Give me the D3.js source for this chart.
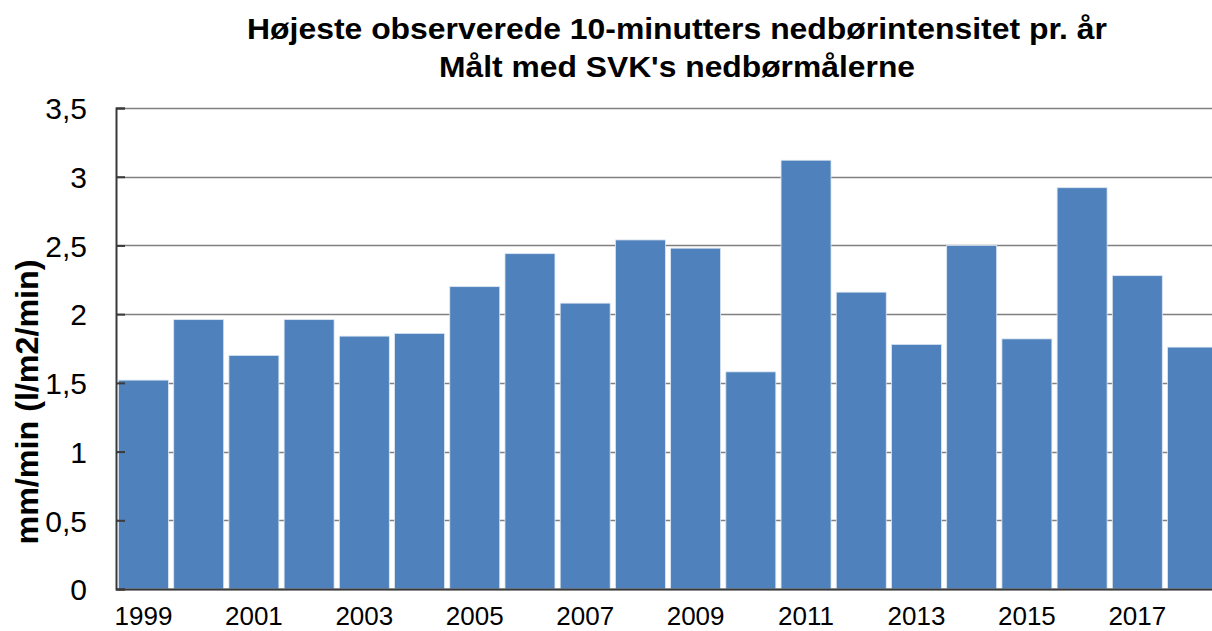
<!DOCTYPE html>
<html>
<head>
<meta charset="utf-8">
<script src="https://cdn.jsdelivr.net/npm/d3@7"></script>
<style>
  html, body { margin: 0; padding: 0; background: #fff; }
  svg { display: block; }
  text { font-family: "Liberation Sans", Arial, sans-serif; fill: #000; }
</style>
</head>
<body>
<svg id="chart" width="1212" height="631"></svg>
<script>
// Highest observed 10-minute rainfall intensity per year
const years = ["1999","2000","2001","2002","2003","2004","2005","2006","2007","2008",
               "2009","2010","2011","2012","2013","2014","2015","2016","2017","2018"];
const intensity = [1.52, 1.96, 1.70, 1.96, 1.84, 1.86, 2.20, 2.44, 2.08, 2.54,
                   2.48, 1.58, 3.12, 2.16, 1.78, 2.50, 1.82, 2.92, 2.28, 1.76];
const yTicks = [0, 0.5, 1, 1.5, 2, 2.5, 3, 3.5];
const yTickLabels = ["0", "0,5", "1", "1,5", "2", "2,5", "3", "3,5"];
const xTickLabels = ["1999","2001","2003","2005","2007","2009","2011","2013","2015","2017"];
const titleLines = ["Højeste observerede 10-minutters nedbørintensitet pr. år",
                    "Målt med SVK's nedbørmålerne"];
const yTitle = "mm/min (l/m2/min)";

const svg = d3.select("#chart");
const plot = { left: 116, right: 1220, top: 108, bottom: 589 };

const x = d3.scaleBand()
  .domain(years)
  .range([plot.left, plot.right])
  .paddingInner(0.095)
  .paddingOuter(0.045);

const y = d3.scaleLinear()
  .domain([0, 3.5])
  .range([plot.bottom, plot.top]);

// horizontal gridlines
svg.append("g")
  .selectAll("line")
  .data(yTicks)
  .join("line")
  .attr("x1", plot.left)
  .attr("x2", plot.right)
  .attr("y1", d => Math.round(y(d)) + 0.5)
  .attr("y2", d => Math.round(y(d)) + 0.5)
  .attr("stroke", "#808080")
  .attr("stroke-width", 1.5);

// bars
svg.append("g")
  .selectAll("rect")
  .data(years.map((yr, i) => ({ yr, v: intensity[i] })))
  .join("rect")
  .attr("x", d => x(d.yr))
  .attr("width", x.bandwidth())
  .attr("y", d => y(d.v))
  .attr("height", d => y(0) - y(d.v))
  .attr("fill", "#4F81BD")
  .attr("stroke", "#DCE6F2")
  .attr("stroke-width", 0.8);

// y axis with inward ticks
const yAxis = d3.axisLeft(y)
  .tickValues(yTicks)
  .tickSize(-9)
  .tickFormat((d, i) => yTickLabels[i]);

const gy = svg.append("g")
  .attr("transform", `translate(${plot.left},0)`)
  .call(yAxis);
gy.select(".domain").attr("stroke", "#3a3a3a").attr("stroke-width", 2);
gy.selectAll(".tick line").attr("stroke", "#3a3a3a").attr("stroke-width", 2);
gy.selectAll(".tick text")
  .attr("x", -29)
  .attr("dy", "0.36em")
  .style("font-size", "30px")
  .style("font-family", "'Liberation Sans', Arial, sans-serif")
  .attr("fill", "#000");

// x axis, every second year labelled
const xAxis = d3.axisBottom(x)
  .tickValues(xTickLabels)
  .tickSize(0)
  .tickPadding(0);
const gx = svg.append("g")
  .attr("transform", `translate(0,${plot.bottom})`)
  .call(xAxis);
gx.select(".domain").attr("stroke", "#3a3a3a").attr("stroke-width", 2);
gx.selectAll(".tick text")
  .attr("y", 36)
  .attr("dy", 0)
  .style("font-size", "26px")
  .style("font-family", "'Liberation Sans', Arial, sans-serif")
  .attr("fill", "#000");

// title, two centred lines
const titleWidths = [860, 476];
svg.append("g")
  .selectAll("text")
  .data(titleLines)
  .join("text")
  .attr("x", 677)
  .attr("y", (d, i) => 39 + i * 38)
  .attr("text-anchor", "middle")
  .attr("textLength", (d, i) => titleWidths[i])
  .attr("lengthAdjust", "spacingAndGlyphs")
  .style("font-size", "29px")
  .style("font-weight", "bold")
  .text(d => d);

// y axis title
svg.append("text")
  .attr("transform", `translate(38,402) rotate(-90)`)
  .attr("text-anchor", "middle")
  .attr("textLength", 285)
  .attr("lengthAdjust", "spacingAndGlyphs")
  .style("font-size", "31px")
  .style("font-weight", "bold")
  .text(yTitle);
</script>
</body>
</html>
